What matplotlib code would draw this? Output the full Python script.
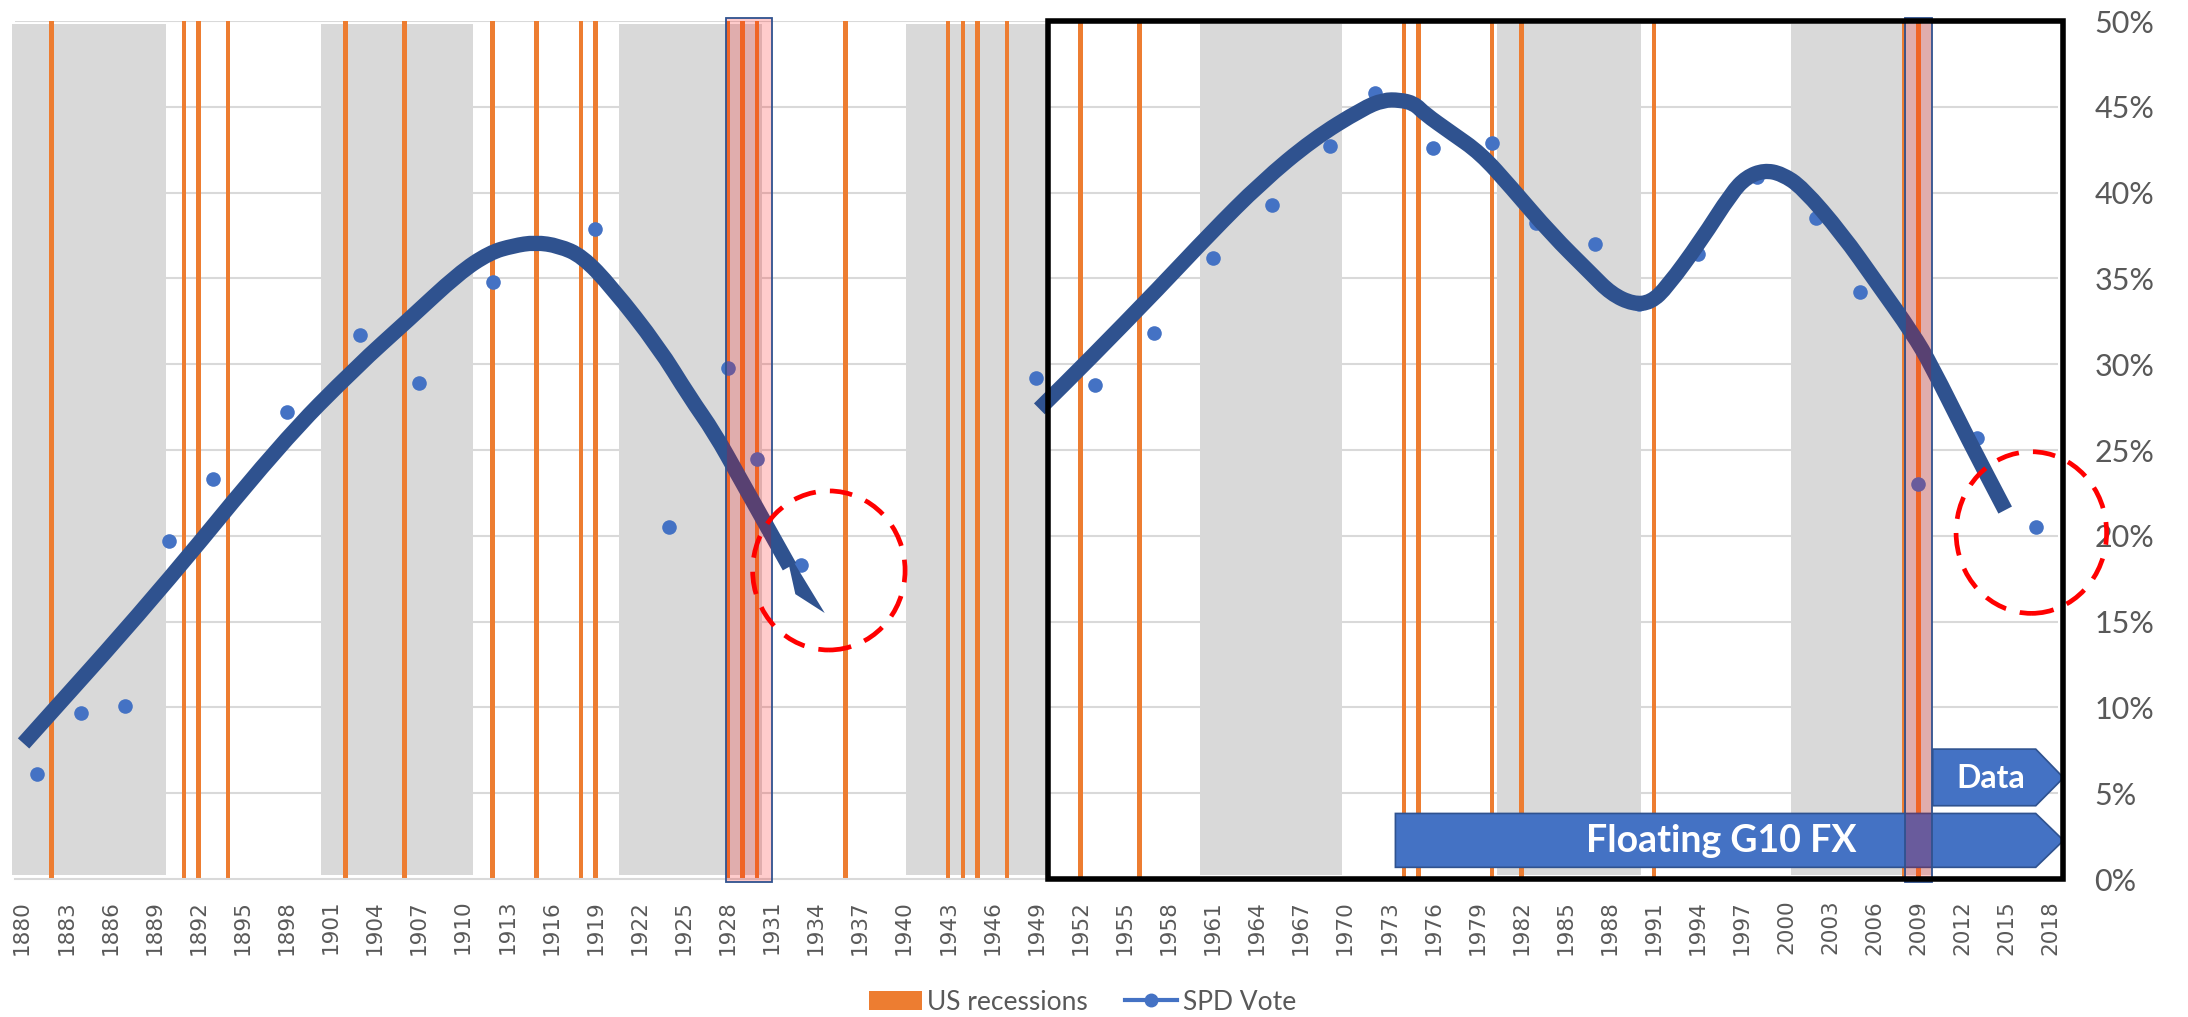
import matplotlib.pyplot as plt
from matplotlib.patches import Rectangle, Polygon, Ellipse, Patch, PathPatch
from matplotlib.path import Path
from matplotlib.lines import Line2D

# SPD vote share, %
vote_years = [1881, 1884, 1887, 1890, 1893, 1898, 1903, 1907, 1912, 1919, 1924, 1928, 1930, 1933,
              1949, 1953, 1957, 1961, 1965, 1969, 1972, 1976, 1980, 1983, 1987, 1990, 1994, 1998,
              2002, 2005, 2009, 2013, 2017]
vote_pct = [6.1, 9.7, 10.1, 19.7, 23.3, 27.2, 31.7, 28.9, 34.8, 37.9, 20.5, 29.8, 24.5, 18.3,
            29.2, 28.8, 31.8, 36.2, 39.3, 42.7, 45.8, 42.6, 42.9, 38.2, 37.0, 33.5, 36.4, 40.9,
            38.5, 34.2, 23.0, 25.7, 20.5]

# US recession years (orange bars)
recession_years = [1882, 1891, 1892, 1894, 1902, 1906, 1912, 1915, 1918, 1919, 1928, 1929, 1930,
                   1936, 1943, 1944, 1945, 1947, 1952, 1956, 1974, 1975, 1980, 1982, 1991, 2008, 2009]

# grey background bands (start, end year)
band_start = [1879.3, 1900.3, 1920.6, 1940.1, 1960.1, 1980.3, 2000.3]
band_end = [1889.8, 1910.7, 1930.3, 1949.8, 1969.8, 1990.1, 2009.9]

# hand drawn trend lines
trend1_x = [1880.1, 1889.0, 1897.6, 1902.8, 1906.3, 1909.7, 1911.8, 1913.4, 1914.9, 1916.5, 1918.1,
            1920.1, 1923.3, 1925.4, 1927.1, 1928.8, 1932.2]
trend1_y = [7.9, 16.4, 25.4, 29.9, 32.6, 35.3, 36.5, 36.9, 37.1, 36.9, 36.3,
            34.5, 31.0, 28.1, 26.0, 23.4, 18.2]
trend2_x = [1949.2, 1952.5, 1957.4, 1960.8, 1964.3, 1967.8, 1971.2, 1972.6, 1973.7, 1974.7, 1975.4,
            1977.2, 1979.2, 1981.3, 1984.0, 1986.7, 1988.1, 1989.6, 1990.8, 1991.9, 1994.2, 1996.3,
            1997.3, 1998.5, 1999.7, 2001.1, 2003.8, 2006.2, 2008.6, 2009.9, 2012.4, 2014.9]
trend2_y = [27.4, 30.2, 34.5, 37.6, 40.6, 43.1, 44.9, 45.4, 45.4, 45.2, 44.6,
            43.5, 42.3, 40.3, 37.6, 35.3, 34.1, 33.5, 33.6, 34.5, 37.2, 40.0,
            40.9, 41.3, 41.1, 40.3, 37.6, 34.7, 31.8, 29.9, 25.6, 21.5]

years = list(range(1880, 2019, 3))
pct_ticks = list(range(0, 51, 5))

grey = '#D9D9D9'
orange = '#ED7D31'
blue = '#4472C4'
dark_blue = '#2F528F'
text_col = '#595959'


def smooth_path(xs, ys):
    # quadratic bezier through midpoints, read points used as control points
    pts = list(zip(xs, ys))
    verts = [pts[0]]
    codes = [Path.MOVETO]
    mid = lambda a, b: ((a[0] + b[0]) / 2, (a[1] + b[1]) / 2)
    verts.append(mid(pts[0], pts[1]))
    codes.append(Path.LINETO)
    for i in range(1, len(pts) - 1):
        verts += [pts[i], mid(pts[i], pts[i + 1])]
        codes += [Path.CURVE3, Path.CURVE3]
    verts.append(pts[-1])
    codes.append(Path.LINETO)
    return Path(verts, codes)


fig = plt.figure(figsize=(21.88, 10.17), dpi=100)
ax = fig.add_axes([0.00674, 0.13569, 0.93389, 0.84366])
ax.set_xlim(1879.5, 2018.5)
ax.set_ylim(0, 50)

for v in pct_ticks[1:]:
    ax.axhline(v, color=grey, lw=1.5, zorder=0)

for s, e in zip(band_start, band_end):
    ax.add_patch(Rectangle((s, 0.25), e - s, 49.6, facecolor=grey, lw=0, zorder=1, clip_on=False))

ax.bar(recession_years, [50] * len(recession_years), width=0.3, color=orange, zorder=2)

ax.plot(vote_years, vote_pct, 'o', ms=10.5, color=blue, mew=0, zorder=3)

for tx, ty in [(trend1_x, trend1_y), (trend2_x, trend2_y)]:
    ax.add_patch(PathPatch(smooth_path(tx, ty), fill=False, edgecolor=dark_blue, lw=11,
                           capstyle='butt', joinstyle='round', zorder=4))
ax.add_patch(Polygon([(1931.9, 19.3), (1932.6, 16.6), (1934.6, 15.5)], closed=True,
                     facecolor=dark_blue, lw=0, zorder=4))

# arrows
ax.add_patch(Polygon([(2009.97, 4.27), (2009.97, 7.57), (2016.98, 7.57), (2018.87, 5.9), (2016.98, 4.27)],
                     closed=True, facecolor=blue, edgecolor=dark_blue, lw=1.2, zorder=5, clip_on=False))
ax.text(2013.9, 5.85, 'Data', color='white', fontsize=23, fontweight='bold', family='Lato',
        ha='center', va='center', zorder=5)
ax.add_patch(Polygon([(1973.42, 0.68), (1973.42, 3.82), (2016.98, 3.82), (2018.87, 2.25), (2016.98, 0.68)],
                     closed=True, facecolor=blue, edgecolor=dark_blue, lw=1.2, zorder=5, clip_on=False))
ax.text(1995.6, 2.2, 'Floating G10 FX', color='white', fontsize=27, fontweight='bold', family='Lato',
        ha='center', va='center', zorder=5)

# highlighted periods
ax.add_patch(Rectangle((1927.86, -0.15), 3.17, 50.3, facecolor=(1, 0, 0, 0.2), edgecolor=dark_blue,
                       lw=1.3, zorder=6, clip_on=False))
ax.add_patch(Rectangle((2008.08, -0.15), 1.86, 50.3, facecolor=(1, 0, 0, 0.2), edgecolor=dark_blue,
                       lw=1.3, zorder=6, clip_on=False))

# red dashed circles
ax.add_patch(Ellipse((1934.88, 17.98), 10.37, 9.27, fill=False, edgecolor='red', lw=3.4,
                     ls=(0, (4.8, 3)), zorder=7, clip_on=False))
ax.add_patch(Ellipse((2016.68, 20.19), 10.24, 9.42, fill=False, edgecolor='red', lw=3.4,
                     ls=(0, (4.8, 3)), zorder=7, clip_on=False))

# black frame
ax.add_patch(Rectangle((1949.82, 0), 69.0, 50.0, fill=False, edgecolor='black', lw=4,
                       zorder=8, clip_on=False))

for side in ['top', 'left', 'right']:
    ax.spines[side].set_visible(False)
ax.spines['bottom'].set_color(grey)
ax.spines['bottom'].set_linewidth(1.5)

ax.set_xticks(years)
ax.set_xticklabels([str(y) for y in years], rotation=90, fontsize=15.5, color=text_col,
                   family='DejaVu Sans')
ax.tick_params(axis='x', length=0, pad=15)

ax.yaxis.tick_right()
ax.set_yticks(pct_ticks)
ax.set_yticklabels([f'{v}%' for v in pct_ticks], fontsize=22, color=text_col, family='Lato')
ax.tick_params(axis='y', length=0, pad=26)

handles = [Patch(facecolor=orange), Line2D([], [], color=blue, lw=3, marker='o', ms=9)]
leg = fig.legend(handles, ['US recessions', 'SPD Vote'], loc='center', bbox_to_anchor=(0.4947, 0.0147),
                 ncol=2, frameon=False, prop={'family': 'Lato', 'size': 19}, handlelength=2.0,
                 handleheight=0.72, handletextpad=0.2, columnspacing=1.4)
for t in leg.get_texts():
    t.set_color(text_col)

fig.savefig('out.png', dpi=100)
